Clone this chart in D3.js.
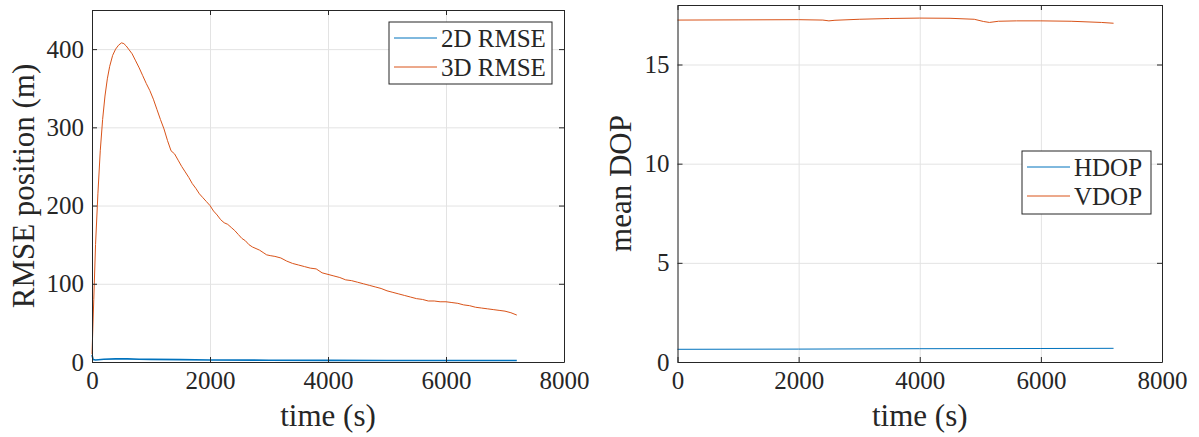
<!DOCTYPE html>
<html>
<head>
<meta charset="utf-8">
<script src="https://cdn.jsdelivr.net/npm/d3@7"></script>
<style>
  body { margin: 0; background: #fff; }
  svg { display: block; }
  text { font-family: "Liberation Serif", "Times New Roman", serif; fill: #262626; }
</style>
</head>
<body>
<svg id="fig" width="1199" height="437"></svg>
<script>
// ---- data ----
const timeTicks = [0, 2000, 4000, 6000, 8000]
const rmseTicks = [0, 100, 200, 300, 400]
const dopTicks = [0, 5, 10, 15]

const t3d = [0, 30, 60, 100, 140, 180, 220, 260, 300, 350, 400, 450, 500, 540, 580, 620, 680, 740, 800, 860, 920, 980, 1040, 1100, 1160, 1220, 1280, 1340, 1400, 1460, 1520, 1580, 1640, 1700, 1760, 1820, 1880, 1940, 2000, 2060, 2120, 2180, 2240, 2300, 2360, 2420, 2480, 2540, 2600, 2660, 2720, 2780, 2840, 2900, 2960, 3020, 3100, 3200, 3300, 3400, 3500, 3600, 3700, 3800, 3900, 4000, 4100, 4200, 4300, 4400, 4500, 4600, 4700, 4800, 4900, 5000, 5100, 5200, 5300, 5400, 5500, 5600, 5700, 5800, 5900, 6000, 6100, 6200, 6300, 6400, 6500, 6600, 6700, 6800, 6900, 7000, 7100, 7200]
const rmse3d = [10, 80, 150, 215, 270, 310, 340, 362, 378, 392, 400, 405, 408, 407, 404, 400, 394, 385, 376, 366, 356, 347, 336, 323, 310, 298, 283, 270, 266, 258, 250, 243, 236, 228, 222, 215, 210, 205, 200, 193, 188, 182, 178, 176, 172, 168, 163, 158, 155, 150, 147, 145, 143, 140, 137, 136, 135, 133, 129, 126, 124, 122, 120, 119, 114, 112, 110, 108, 105, 104, 102, 100, 98, 96, 94, 91, 89, 87, 85, 83, 81, 80, 78, 78, 77, 77, 76, 75, 73, 72, 70, 69, 68, 67, 66, 65, 63, 60]

const t2d = [0, 20, 60, 200, 400, 600, 800, 1000, 1500, 2000, 3000, 4000, 5000, 6000, 7200]
const rmse2d = [9, 3, 2.5, 3.5, 4, 4, 3.6, 3.3, 3, 2.6, 2.3, 2.1, 2, 2, 2]

const tHdop = [0, 2000, 4000, 6000, 7200]
const hdop = [0.64, 0.65, 0.67, 0.68, 0.69]

const tVdop = [0, 1000, 2000, 2400, 2500, 2600, 3000, 3500, 4000, 4500, 4900, 5050, 5150, 5300, 5600, 6000, 6500, 7000, 7200]
const vdop = [17.24, 17.25, 17.26, 17.24, 17.2, 17.23, 17.28, 17.32, 17.34, 17.33, 17.28, 17.17, 17.12, 17.18, 17.2, 17.2, 17.18, 17.12, 17.08]

const blue = "#0072BD"
const orange = "#D95319"
const svg = d3.select("#fig")

function panel(opt) {
  const { left, right, top, bottom, yMax, yTicks, series, yLabel, legend } = opt
  const x = d3.scaleLinear().domain([0, 8000]).range([left, right])
  const y = d3.scaleLinear().domain([0, yMax]).range([bottom, top])
  const g = svg.append("g")

  // grid
  g.append("g").attr("transform", `translate(0,${bottom})`)
    .call(d3.axisBottom(x).tickValues(timeTicks).tickSize(-(bottom - top)).tickFormat(""))
    .call((s) => s.select(".domain").remove())
    .selectAll("line").attr("stroke", "#e3e3e3")
  g.append("g").attr("transform", `translate(${left},0)`)
    .call(d3.axisLeft(y).tickValues(yTicks).tickSize(-(right - left)).tickFormat(""))
    .call((s) => s.select(".domain").remove())
    .selectAll("line").attr("stroke", "#e3e3e3")

  // lines
  const line = d3.line().x((d) => x(d[0])).y((d) => y(d[1]))
  series.forEach((s) => {
    g.append("path")
      .datum(d3.zip(s.t, s.v))
      .attr("fill", "none")
      .attr("stroke", s.color)
      .attr("stroke-width", s.width || 1)
      .attr("d", line)
  })

  // axes (ticks inside, box on)
  const style = (s) => {
    s.attr("font-family", null).attr("font-size", null)
    s.select(".domain").attr("stroke", "#262626")
    s.selectAll(".tick line").attr("stroke", "#262626")
    s.selectAll("text").style("font-size", "25px").attr("fill", "#262626")
  }
  g.append("g").attr("transform", `translate(0,${bottom})`)
    .call(d3.axisBottom(x).tickValues(timeTicks).tickSize(-5).tickSizeOuter(0).tickPadding(9).tickFormat(d3.format("d"))).call(style)
  g.append("g").attr("transform", `translate(0,${top})`)
    .call(d3.axisTop(x).tickValues(timeTicks).tickSize(-5).tickSizeOuter(0).tickFormat("")).call(style)
  g.append("g").attr("transform", `translate(${left},0)`)
    .call(d3.axisLeft(y).tickValues(yTicks).tickSize(-5).tickSizeOuter(0).tickPadding(8).tickFormat(d3.format("d"))).call(style)
  g.append("g").attr("transform", `translate(${right},0)`)
    .call(d3.axisRight(y).tickValues(yTicks).tickSize(-5).tickSizeOuter(0).tickFormat("")).call(style)

  // axis labels
  g.append("text").attr("x", (left + right) / 2).attr("y", 426)
    .attr("text-anchor", "middle").style("font-size", "31px").text("time (s)")
  g.append("text")
    .attr("transform", `translate(${opt.yLabelX},${(top + bottom) / 2}) rotate(-90)`)
    .attr("text-anchor", "middle").style("font-size", "31px").text(yLabel)

  // legend
  const lg = g.append("g")
  lg.append("rect").attr("x", legend.x).attr("y", legend.y).attr("width", legend.w).attr("height", legend.h)
    .attr("fill", "#fff").attr("stroke", "#262626").attr("stroke-width", 1)
  series.forEach((s, i) => {
    const cy = legend.y + 16 + i * 29
    lg.append("line").attr("x1", legend.x + 5).attr("x2", legend.x + 48).attr("y1", cy).attr("y2", cy)
      .attr("stroke", s.color).attr("stroke-width", 1)
    lg.append("text").attr("x", legend.x + 52).attr("y", cy).attr("dy", "0.35em")
      .style("font-size", "25px").text(s.name)
  })
}

panel({
  left: 92, right: 564, top: 10, bottom: 362, yMax: 450, yTicks: rmseTicks, yLabelX: 34,
  yLabel: "RMSE position (m)",
  series: [
    { name: "2D RMSE", t: t2d, v: rmse2d, color: blue, width: 1.6 },
    { name: "3D RMSE", t: t3d, v: rmse3d, color: orange }
  ],
  legend: { x: 389, y: 22, w: 163, h: 62 }
})

panel({
  left: 677.5, right: 1162, top: 5, bottom: 362, yMax: 18, yTicks: dopTicks, yLabelX: 631,
  yLabel: "mean DOP",
  series: [
    { name: "HDOP", t: tHdop, v: hdop, color: blue },
    { name: "VDOP", t: tVdop, v: vdop, color: orange }
  ],
  legend: { x: 1022, y: 151, w: 129, h: 63 }
})
</script>
</body>
</html>
